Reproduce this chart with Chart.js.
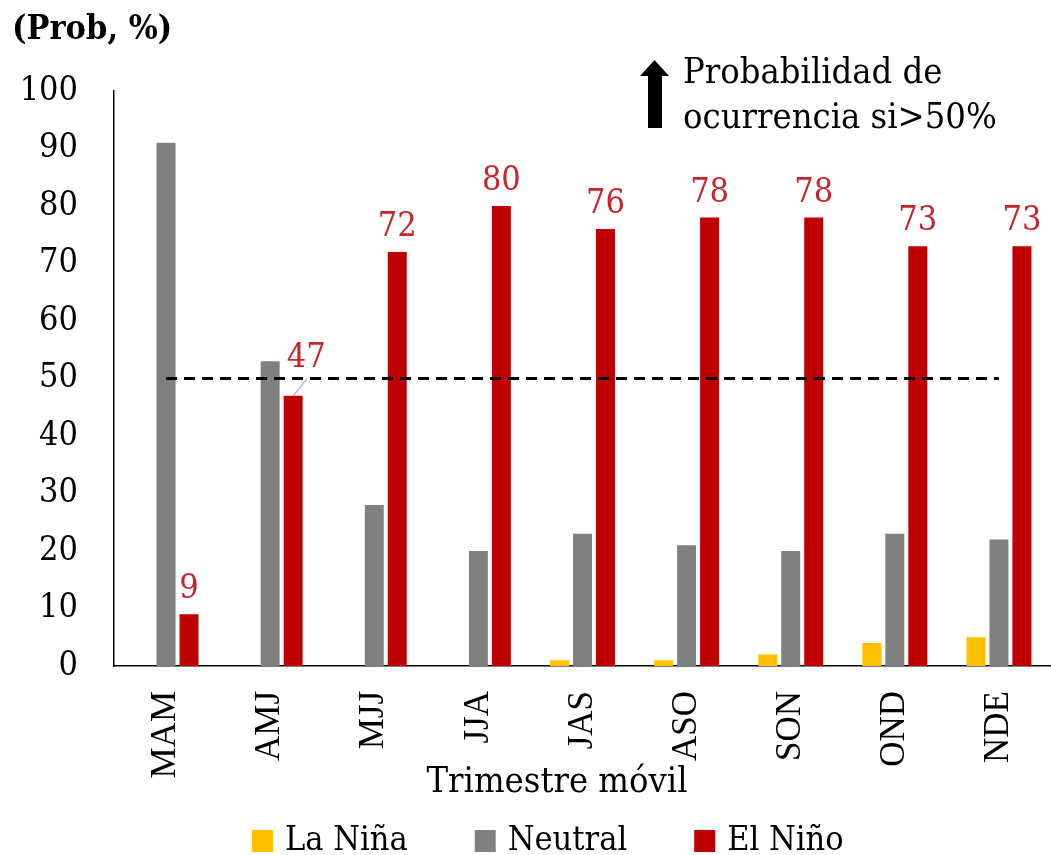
<!DOCTYPE html>
<html>
<head>
<meta charset="utf-8">
<script src="https://cdn.jsdelivr.net/npm/chart.js@4.4.1/dist/chart.umd.min.js"></script>
<style>
  html, body { margin: 0; padding: 0; background: #ffffff; }
  #wrap { width: 1051px; height: 855px; position: relative; }
</style>
</head>
<body>
<div id="wrap"><canvas id="c" width="1051" height="855"></canvas></div>
<script>
const categories = ['MAM', 'AMJ', 'MJJ', 'JJA', 'JAS', 'ASO', 'SON', 'OND', 'NDE'];
const laNina  = [0, 0, 0, 0, 1, 1, 2, 4, 5];
const neutral = [91, 53, 28, 20, 23, 21, 20, 23, 22];
const elNino  = [9, 47, 72, 80, 76, 78, 78, 73, 73];
const threshold = [50, 50, 50, 50, 50, 50, 50, 50, 50];
const yTicks = [0, 10, 20, 30, 40, 50, 60, 70, 80, 90, 100];
const seriesNames = ['La Niña', 'Neutral', 'El Niño'];
const seriesColors = ['#FFC000', '#808080', '#C00000'];

const LORA = "'DejaVu Serif Condensed', 'DejaVu Serif', serif";
const TIMES = "'Liberation Serif', 'Times New Roman', serif";
const LABEL_RED = '#CC2229';

const decor = {
  id: 'decor',
  afterDatasetsDraw(chart) {
    const ctx = chart.ctx;
    ctx.save();
    const meta = chart.getDatasetMeta(2);
    ctx.font = "34px " + LORA;
    ctx.fillStyle = LABEL_RED;
    ctx.textAlign = 'center';
    ctx.textBaseline = 'alphabetic';
    meta.data.forEach((bar, i) => {
      const v = elNino[i];
      let x = bar.x, y = bar.y - 16;
      if (i === 1) {
        x = bar.x + 13;
        y = bar.y - 29;
        ctx.save();
        ctx.strokeStyle = '#BFBFBF';
        ctx.lineWidth = 1.5;
        ctx.beginPath();
        ctx.moveTo(bar.x, bar.y);
        ctx.lineTo(bar.x + 14, bar.y - 17);
        ctx.stroke();
        ctx.restore();
      }
      ctx.fillText(String(v), x, y);
    });
    ctx.restore();
  },
  afterDraw(chart) {
    const ctx = chart.ctx;
    ctx.save();
    ctx.fillStyle = '#000';
    ctx.font = "bold 34px " + LORA;
    ctx.textAlign = 'left';
    ctx.textBaseline = 'alphabetic';
    ctx.fillText('(Prob, %)', 12, 39);

    // arrow annotation
    ctx.beginPath();
    ctx.moveTo(654.5, 60);
    ctx.lineTo(669, 76);
    ctx.lineTo(662, 76);
    ctx.lineTo(662, 128);
    ctx.lineTo(648, 128);
    ctx.lineTo(648, 76);
    ctx.lineTo(640, 76);
    ctx.closePath();
    ctx.fill();
    ctx.font = "36px " + LORA;
    ctx.fillText('Probabilidad de', 683, 83);
    ctx.fillText('ocurrencia si>50%', 683, 128);

    // x axis title
    ctx.font = "36px " + LORA;
    ctx.textAlign = 'center';
    ctx.fillText('Trimestre móvil', 557, 792);

    // legend
    ctx.textAlign = 'left';
    ctx.font = "34px " + LORA;
    let x = 252;
    seriesNames.forEach((name, i) => {
      ctx.fillStyle = seriesColors[i];
      ctx.fillRect(x, 830, 21, 22);
      ctx.fillStyle = '#000';
      ctx.fillText(name, x + 33, 850);
      x += 33 + ctx.measureText(name).width + 67;
    });
    ctx.restore();
  }
};

const barCommon = {
  categoryPercentage: 0.662,
  barPercentage: 0.826,
  borderWidth: 0,
  order: 1
};

new Chart(document.getElementById('c'), {
  type: 'bar',
  data: {
    labels: categories,
    datasets: [
      Object.assign({ label: seriesNames[0], data: laNina, backgroundColor: seriesColors[0] }, barCommon),
      Object.assign({ label: seriesNames[1], data: neutral, backgroundColor: seriesColors[1] }, barCommon),
      Object.assign({ label: seriesNames[2], data: elNino, backgroundColor: seriesColors[2] }, barCommon),
      {
        type: 'line', label: 'Umbral', data: threshold,
        borderColor: '#000', borderWidth: 3, borderDash: [11, 7],
        pointRadius: 0, fill: false, order: 0
      }
    ]
  },
  options: {
    responsive: false,
    animation: false,
    devicePixelRatio: 1,
    layout: { padding: { top: 91, left: 0, right: 0, bottom: 0 } },
    plugins: {
      legend: { display: false },
      title: { display: false },
      tooltip: { enabled: false }
    },
    scales: {
      x: {
        grid: { display: false, drawTicks: false },
        border: { display: true, color: '#000', width: 1.5 },
        ticks: {
          autoSkip: false, minRotation: 90, maxRotation: 90,
          padding: 25, color: '#000',
          font: { family: TIMES, size: 35 }
        },
        afterFit(scale) {
          scale.height = 189;
          scale.paddingLeft = 0;
          scale.paddingRight = 0;
        }
      },
      y: {
        min: 0, max: 100,
        grid: { display: false, drawTicks: false },
        border: { display: true, color: '#000', width: 1.5 },
        afterBuildTicks(scale) { scale.ticks = yTicks.map(v => ({ value: v })); },
        ticks: {
          padding: 36, color: '#000',
          font: { family: LORA, size: 34 }
        },
        afterFit(scale) { scale.width = 114; }
      }
    }
  },
  plugins: [decor]
});
</script>
</body>
</html>
